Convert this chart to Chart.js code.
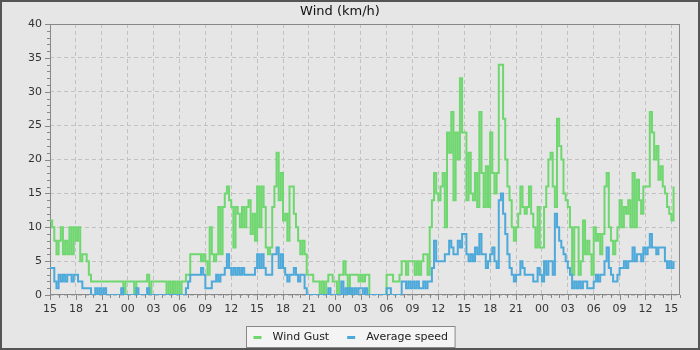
<!DOCTYPE html>
<html>
<head>
<meta charset="utf-8">
<script src="https://cdn.jsdelivr.net/npm/chart.js@4/dist/chart.umd.min.js"></script>
<style>
  html, body { margin: 0; padding: 0; background: #e6e6e6; }
</style>
</head>
<body>
<canvas id="chart" width="700" height="350"></canvas>
<script>
// x axis tick labels (hour of day, every 3 hours, starting 15:00)
const hourLabels = ['15', '18', '21', '00', '03', '06', '09', '12', '15', '18', '21', '00', '03',
  '06', '09', '12', '15', '18', '21', '00', '03', '06', '09', '12', '15'];

// wind gust, km/h, one value per 15 minutes (one row = 6 hours)
const gust = [
  11, 10, 8, 6, 8, 10, 6, 8, 6, 10, 6, 10, 8, 10, 5, 6, 6, 5, 3, 2, 2, 2, 2, 2,
  2, 2, 2, 2, 2, 2, 2, 2, 2, 2, 0, 2, 2, 2, 2, 0, 2, 2, 2, 2, 2, 3, 0, 2,
  2, 2, 2, 2, 2, 2, 0, 2, 0, 2, 0, 2, 0, 2, 2, 3, 3, 6, 6, 6, 6, 6, 5, 6,
  5, 3, 10, 6, 5, 6, 13, 6, 13, 15, 16, 14, 13, 7, 13, 12, 10, 13, 10, 13, 14, 9, 12, 8,
  16, 10, 16, 13, 7, 6, 7, 13, 16, 21, 14, 18, 11, 12, 8, 16, 16, 12, 10, 8, 6, 8, 6, 3,
  3, 3, 2, 2, 2, 0, 2, 0, 2, 3, 3, 2, 2, 0, 3, 3, 5, 3, 0, 3, 3, 3, 3, 2,
  3, 2, 3, 3, 0, 0, 0, 0, 0, 0, 0, 0, 3, 3, 3, 2, 2, 2, 3, 5, 5, 3, 5, 5,
  5, 3, 5, 3, 5, 6, 6, 3, 10, 14, 18, 15, 14, 16, 18, 10, 24, 21, 27, 14, 24, 20, 32, 24,
  24, 14, 21, 15, 14, 18, 13, 27, 18, 13, 19, 13, 24, 18, 15, 18, 34, 34, 26, 20, 16, 14, 10, 8,
  10, 12, 16, 13, 12, 13, 16, 12, 10, 7, 13, 7, 7, 13, 16, 20, 21, 16, 13, 26, 22, 20, 15, 14,
  13, 10, 3, 10, 10, 3, 5, 11, 6, 8, 6, 3, 10, 8, 9, 6, 9, 16, 18, 10, 8, 6, 8, 10,
  14, 10, 13, 12, 14, 10, 18, 10, 17, 14, 12, 16, 16, 16, 27, 24, 20, 22, 17, 19, 16, 15, 13, 12,
  11, 16
];

// average wind speed, km/h, same sampling
const avg = [
  4, 4, 2, 1, 3, 2, 3, 2, 3, 3, 2, 3, 3, 2, 2, 1, 1, 1, 1, 0, 0, 1, 0, 1,
  0, 1, 0, 0, 0, 0, 0, 0, 0, 1, 0, 0, 0, 0, 0, 0, 1, 0, 0, 0, 0, 1, 0, 0,
  0, 0, 0, 0, 0, 0, 0, 0, 0, 0, 0, 0, 0, 0, 0, 1, 2, 3, 3, 3, 3, 3, 4, 3,
  1, 1, 1, 2, 2, 3, 2, 3, 3, 4, 6, 4, 3, 4, 3, 4, 3, 4, 3, 3, 3, 3, 3, 4,
  6, 4, 6, 4, 3, 3, 3, 6, 6, 7, 4, 6, 4, 3, 2, 3, 3, 4, 3, 2, 3, 3, 1, 0,
  0, 0, 0, 0, 0, 0, 0, 0, 0, 1, 0, 0, 0, 0, 0, 2, 0, 1, 0, 1, 0, 1, 0, 1,
  1, 0, 1, 0, 0, 0, 0, 0, 0, 0, 0, 0, 1, 1, 0, 0, 0, 0, 0, 2, 2, 1, 2, 1,
  2, 1, 2, 1, 1, 2, 1, 2, 2, 4, 8, 5, 5, 5, 5, 6, 6, 8, 7, 6, 6, 8, 7, 9,
  9, 6, 5, 6, 5, 7, 6, 9, 6, 6, 4, 5, 6, 7, 5, 4, 14, 15, 12, 9, 6, 4, 3, 2,
  3, 3, 5, 4, 3, 3, 3, 3, 2, 2, 4, 3, 2, 5, 3, 5, 5, 3, 12, 10, 8, 7, 6, 5,
  4, 3, 1, 2, 1, 2, 1, 2, 2, 1, 1, 1, 2, 3, 2, 3, 3, 5, 7, 4, 3, 2, 2, 3,
  4, 4, 5, 4, 5, 5, 7, 5, 6, 6, 5, 7, 6, 7, 9, 7, 7, 6, 7, 7, 7, 5, 4, 5,
  4, 5
];

// hours since 15:00 of the first day
const times = gust.map((v, i) => i / 4);

const GREEN = '#6fd76f';
const BLUE = '#4ca9da';
const FONT = 'DejaVu Sans';

// background, tick marks, plot frame, outer border and legend box
const decor = {
  id: 'decor',
  beforeDraw(chart) {
    const ctx = chart.ctx;
    ctx.save();
    ctx.fillStyle = '#e6e6e6';
    ctx.fillRect(0, 0, chart.width, chart.height);
    ctx.restore();
  },
  beforeDatasetsDraw(chart) {
    const { ctx, chartArea: a, scales: { x, y } } = chart;
    ctx.save();
    ctx.strokeStyle = '#888';
    ctx.lineWidth = 1;
    ctx.beginPath();
    for (let v = 0; v <= 40; v++) {
      const py = Math.round(y.getPixelForValue(v)) + 0.5;
      const len = v % 5 ? 3 : 5;
      ctx.moveTo(a.left - len, py);
      ctx.lineTo(a.left, py);
    }
    for (let h = 0; h <= 73; h++) {
      const px = Math.round(x.getPixelForValue(h)) + 0.5;
      const len = h % 3 ? 3 : 5;
      ctx.moveTo(px, a.bottom);
      ctx.lineTo(px, a.bottom + len);
    }
    ctx.stroke();
    ctx.strokeRect(Math.round(a.left) + 0.5, Math.round(a.top) + 0.5,
      Math.round(a.width) - 1, Math.round(a.height) - 1);
    ctx.restore();
  },
  afterDraw(chart) {
    const ctx = chart.ctx;
    ctx.save();
    // legend, Wind Gust first
    const items = chart.data.datasets.slice().reverse();
    ctx.font = '11px "' + FONT + '"';
    const widths = items.map(d => ctx.measureText(d.label).width);
    const pad = 7, sym = 8, gap = 11, between = 18;
    let total = pad * 2 + between * (items.length - 1);
    widths.forEach(w => { total += sym + gap + w; });
    const bx = Math.round(350 - total / 2) + 0.5;
    const by = 326.5, bh = 21;
    ctx.fillStyle = '#f4f4f4';
    ctx.fillRect(bx, by, total, bh);
    ctx.strokeStyle = '#888';
    ctx.lineWidth = 1;
    ctx.strokeRect(bx, by, total, bh);
    let cx = bx + pad;
    const cy = by + bh / 2;
    items.forEach((d, i) => {
      ctx.fillStyle = d.borderColor;
      ctx.fillRect(cx, cy - 1, sym, 3);
      cx += sym + gap;
      ctx.fillStyle = '#222';
      ctx.textBaseline = 'middle';
      ctx.fillText(d.label, cx, cy);
      cx += widths[i] + between;
    });
    // outer border
    ctx.strokeStyle = '#555';
    ctx.lineWidth = 2;
    ctx.strokeRect(1, 1, chart.width - 2, chart.height - 2);
    ctx.restore();
  }
};

new Chart(document.getElementById('chart'), {
  type: 'line',
  data: {
    labels: times,
    datasets: [
      {
        label: 'Average speed',
        data: avg,
        borderColor: BLUE,
        backgroundColor: BLUE,
        borderWidth: 2,
        stepped: true,
        pointRadius: 0,
        fill: false
      },
      {
        label: 'Wind Gust',
        data: gust,
        borderColor: GREEN,
        backgroundColor: GREEN,
        borderWidth: 2,
        stepped: true,
        pointRadius: 0,
        fill: false
      }
    ]
  },
  options: {
    responsive: false,
    animation: false,
    devicePixelRatio: 1,
    layout: { padding: { left: 0, right: 20, top: 0, bottom: 0 } },
    plugins: {
      legend: { display: false },
      tooltip: { enabled: false },
      title: {
        display: true,
        text: 'Wind (km/h)',
        color: '#111',
        font: { family: FONT, size: 13, weight: 'normal', lineHeight: 1.2 },
        padding: { top: 4, bottom: 4.4 }
      }
    },
    scales: {
      x: {
        type: 'linear',
        min: 0,
        max: 73,
        afterFit: s => { s.height = 55; },
        grid: { color: '#c2c2c2', drawTicks: false },
        border: { display: false, dash: [4, 3] },
        ticks: {
          stepSize: 3,
          includeBounds: false,
          autoSkip: false,
          maxRotation: 0,
          padding: 8,
          color: '#333',
          font: { family: FONT, size: 11 },
          callback: (v, i) => hourLabels[i]
        }
      },
      y: {
        min: 0,
        max: 40,
        afterFit: s => { s.width = 50; },
        grid: { color: '#c2c2c2', drawTicks: false },
        border: { display: false, dash: [4, 3] },
        ticks: {
          stepSize: 5,
          padding: 8,
          color: '#333',
          font: { family: FONT, size: 11 }
        }
      }
    }
  },
  plugins: [decor]
});
</script>
</body>
</html>
